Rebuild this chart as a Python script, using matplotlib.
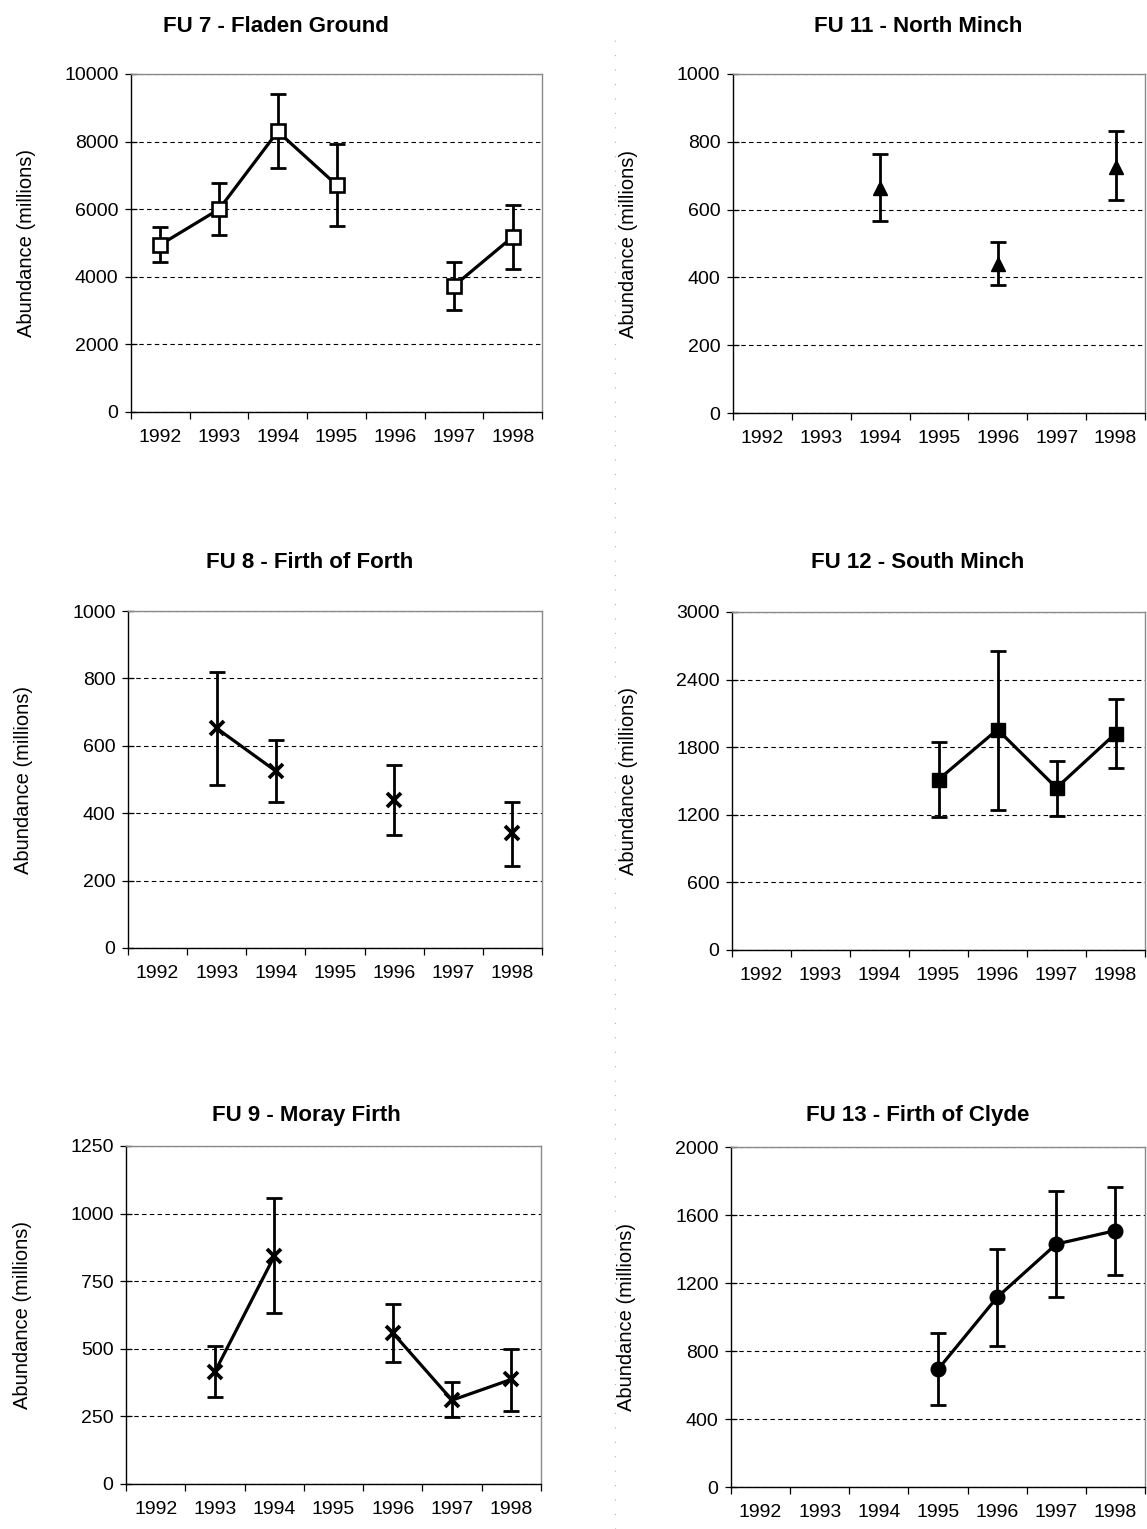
import numpy as np
import matplotlib
matplotlib.use('Agg')
import matplotlib.pyplot as plt
from matplotlib.lines import Line2D

plt.rcParams['font.family'] = ['Liberation Sans', 'DejaVu Sans']

years = ['1992', '1993', '1994', '1995', '1996', '1997', '1998']
nan = np.nan

# FU 7 - Fladen Ground
fu7 = [4950, 6000, 8300, 6720, nan, 3730, 5180]
fu7Upper = [5480, 6780, 9420, 7920, nan, 4430, 6130]
fu7Lower = [4450, 5250, 7220, 5510, nan, 3030, 4220]

# FU 11 - North Minch
fu11 = [nan, nan, 665, nan, 440, nan, 727]
fu11Upper = [nan, nan, 763, nan, 504, nan, 833]
fu11Lower = [nan, nan, 566, nan, 377, nan, 628]

# FU 8 - Firth of Forth
fu8 = [nan, 652, 525, nan, 438, nan, 340]
fu8Upper = [nan, 820, 618, nan, 543, nan, 434]
fu8Lower = [nan, 485, 432, nan, 334, nan, 244]

# FU 12 - South Minch
fu12 = [nan, nan, nan, 1513, 1957, 1439, 1921]
fu12Upper = [nan, nan, nan, 1844, 2651, 1679, 2229]
fu12Lower = [nan, nan, nan, 1182, 1241, 1188, 1611]

# FU 9 - Moray Firth
fu9 = [nan, 415, 842, nan, 559, 310, 387]
fu9Upper = [nan, 510, 1059, nan, 665, 379, 498]
fu9Lower = [nan, 323, 633, nan, 451, 249, 271]

# FU 13 - Firth of Clyde
fu13 = [nan, nan, nan, 692, 1116, 1429, 1508]
fu13Upper = [nan, nan, nan, 904, 1401, 1743, 1765]
fu13Lower = [nan, nan, nan, 480, 829, 1120, 1248]

W, H = 1147, 1529
fig = plt.figure(figsize=(W / 100, H / 100), dpi=100)


def addPanel(box, title, titleX, titleY, vals, upper, lower, yticks, marker):
    x0, y0, x1, y1 = box
    ax = fig.add_axes([x0 / W, 1 - y1 / H, (x1 - x0) / W, (y1 - y0) / H])
    x = np.arange(len(years))
    vals = np.array(vals, dtype=float)
    errLow = vals - np.array(lower, dtype=float)
    errHigh = np.array(upper, dtype=float) - vals
    ok = ~np.isnan(vals)

    ax.errorbar(x[ok], vals[ok], yerr=[errLow[ok], errHigh[ok]], fmt='none',
                ecolor='black', elinewidth=2.0, capsize=5.5, capthick=2.0, zorder=3)
    if marker == 'open':
        ax.plot(x, vals, color='black', lw=2.3, marker='s', ms=9.5,
                mfc='white', mec='black', mew=1.9, zorder=4)
    elif marker == 'x':
        ax.plot(x, vals, color='black', lw=2.3, marker='x', ms=9.5, mew=2.7, zorder=4)
    else:
        ax.plot(x, vals, color='black', lw=2.3, marker=marker, ms=10.5,
                mfc='black', mec='black', zorder=4)

    ax.set_xlim(-0.5, len(years) - 0.5)
    ax.set_ylim(yticks[0], yticks[-1])
    ax.set_xticks(x)
    ax.set_xticklabels(years)
    ax.set_xticks(np.arange(-0.5, len(years)), minor=True)
    ax.tick_params(axis='x', which='major', length=0, pad=12, labelsize=14)
    ax.tick_params(axis='x', which='minor', length=5, width=0.9, direction='out')
    ax.set_yticks(yticks)
    ax.tick_params(axis='y', which='major', length=8, width=0.9, direction='inout',
                   pad=5, labelsize=14)
    ax.yaxis.grid(True, linestyle=(0, (4, 3)), color='black', lw=0.8)
    ax.set_axisbelow(True)

    for side in ['top', 'right']:
        ax.spines[side].set_color('#8a8a8a')
        ax.spines[side].set_linewidth(1.0)
    for side in ['left', 'bottom']:
        ax.spines[side].set_color('black')
        ax.spines[side].set_linewidth(1.0)

    fig.text(titleX / W, 1 - titleY / H, title, ha='center', va='center',
             fontsize=16, fontweight='bold')
    fig.text((x0 - 104) / W, 1 - (y0 + y1) / 2 / H, 'Abundance (millions)',
             rotation=90, ha='center', va='center', fontsize=14.5)
    return ax


addPanel((131, 74, 542, 412), 'FU 7 - Fladen Ground', 276, 27,
         fu7, fu7Upper, fu7Lower, [0, 2000, 4000, 6000, 8000, 10000], 'open')
addPanel((733, 74, 1145, 413), 'FU 11 - North Minch', 918, 27,
         fu11, fu11Upper, fu11Lower, [0, 200, 400, 600, 800, 1000], '^')
addPanel((128, 611, 542, 948), 'FU 8 - Firth of Forth', 310, 562,
         fu8, fu8Upper, fu8Lower, [0, 200, 400, 600, 800, 1000], 'x')
addPanel((732, 612, 1145, 950), 'FU 12 - South Minch', 918, 562,
         fu12, fu12Upper, fu12Lower, [0, 600, 1200, 1800, 2400, 3000], 's')
addPanel((126, 1146, 541, 1484), 'FU 9 - Moray Firth', 306, 1115,
         fu9, fu9Upper, fu9Lower, [0, 250, 500, 750, 1000, 1250], 'x')
addPanel((731, 1147, 1145, 1487), 'FU 13 - Firth of Clyde', 918, 1115,
         fu13, fu13Upper, fu13Lower, [0, 400, 800, 1200, 1600, 2000], 'o')

# faint page fold down the middle of the scan
fig.add_artist(Line2D([615 / W, 615 / W], [0.0, 1 - 30 / H], color='#b0b0b0',
                      lw=0.8, linestyle=(0, (1, 12))))

fig.savefig('out.png', dpi=100, facecolor='white')
